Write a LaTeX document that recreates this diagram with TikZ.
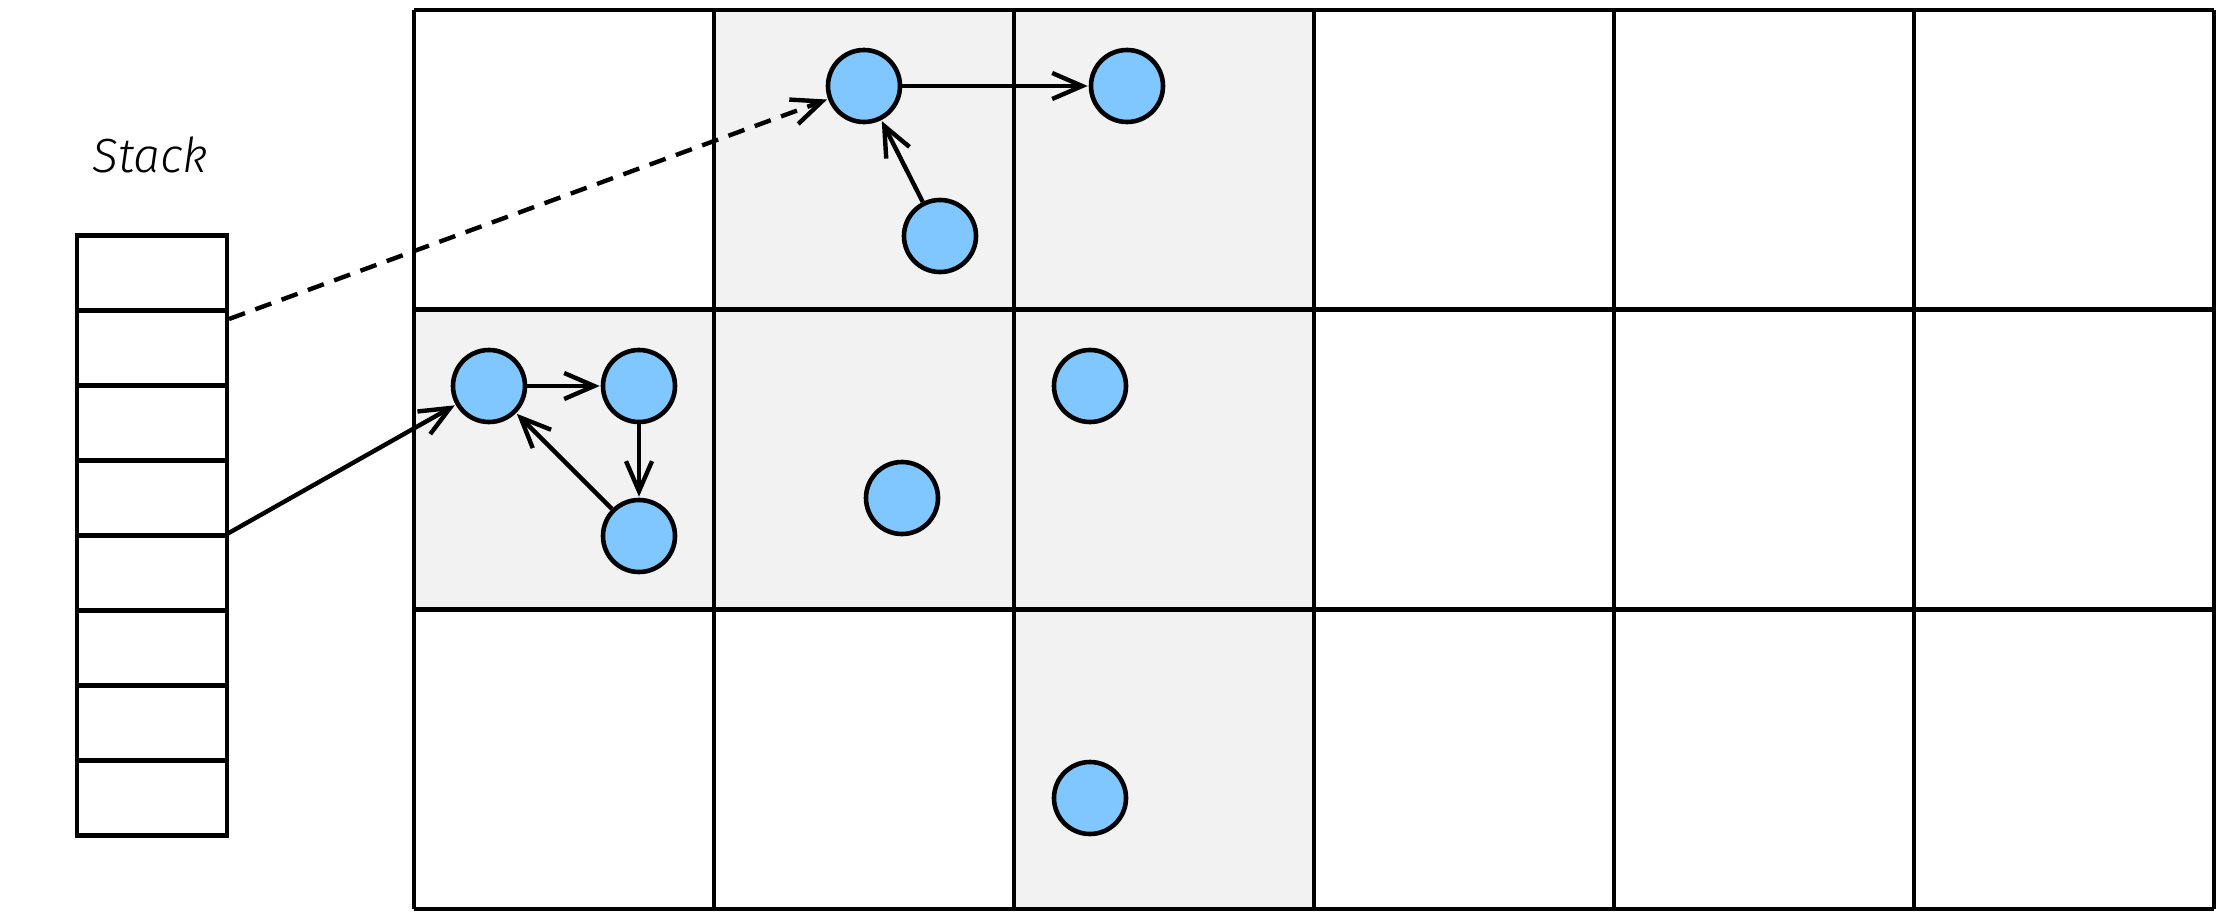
\documentclass[tikz,border=0pt]{standalone}
\usepackage{fontspec}
\usetikzlibrary{arrows.meta}
\IfFontExistsTF{Fira Sans Light}{%
  \newfontfamily\stackfont{Fira Sans Light}[ItalicFont={Fira Sans Light Italic}]}{%
  \newfontfamily\stackfont{Fira Sans}}
\definecolor{cellgray}{RGB}{242,242,242}
\definecolor{nodeblue}{RGB}{128,199,255}
\tikzset{
  lw/.style={line width=4.6pt},
  vtx/.style={circle, draw=black, line width=4.6pt, fill=nodeblue, minimum size=72pt, inner sep=0pt},
  stackcell/.style={draw=black, line width=4.6pt, minimum width=150pt, minimum height=75pt, inner sep=0pt, fill=white},
  arr/.style={line width=4.4pt, -{Straight Barb[length=30pt,width=26pt]}, shorten >=1pt},
}
\begin{document}
\begin{tikzpicture}[x=1pt,y=-1pt]
\useasboundingbox (0,0) rectangle (2221,917);
% shaded cells
\foreach \c/\r in {1/0,2/0,0/1,1/1,2/1,2/2}{
  \fill[cellgray] (414+300*\c,10+299.7*\r) rectangle ++(300,299.7);
}
% grid
\foreach \i in {0,...,6}{
  \draw[lw] (414+300*\i,10) -- (414+300*\i,909);
}
\foreach \j in {0,...,3}{
  \draw[lw] (414,10+299.7*\j) -- (2214,10+299.7*\j);
}
% stack
\foreach \k in {1,...,8}{
  \node[stackcell] (s\k) at (152,235.7+75*\k-37.5) {};
}
\node[anchor=base] (title) at (150,172.7) {\fontsize{48}{54}\selectfont\stackfont\itshape Stack};
\coordinate (dstart) at (229,319);
\coordinate (sstart) at (227,534);
% vertices
\node[vtx] (t1) at (864,86) {};
\node[vtx] (t2) at (1127,86) {};
\node[vtx] (t3) at (940,236) {};
\node[vtx] (a) at (489,386) {};
\node[vtx] (b) at (639,386) {};
\node[vtx] (c) at (639,536) {};
\node[vtx] (m) at (902,498) {};
\node[vtx] (r) at (1090,386) {};
\node[vtx] (q) at (1090,798) {};
% edges
\draw[arr] (t1) -- (t2);
\draw[arr] (t3) -- (t1);
\draw[arr] (a) -- (b);
\draw[arr] (b) -- (c);
\draw[arr] (c) -- (a);
\draw[arr, dash pattern=on 17pt off 11pt] (dstart) -- (t1);
\draw[arr] (sstart) -- (a);
\end{tikzpicture}
\end{document}
